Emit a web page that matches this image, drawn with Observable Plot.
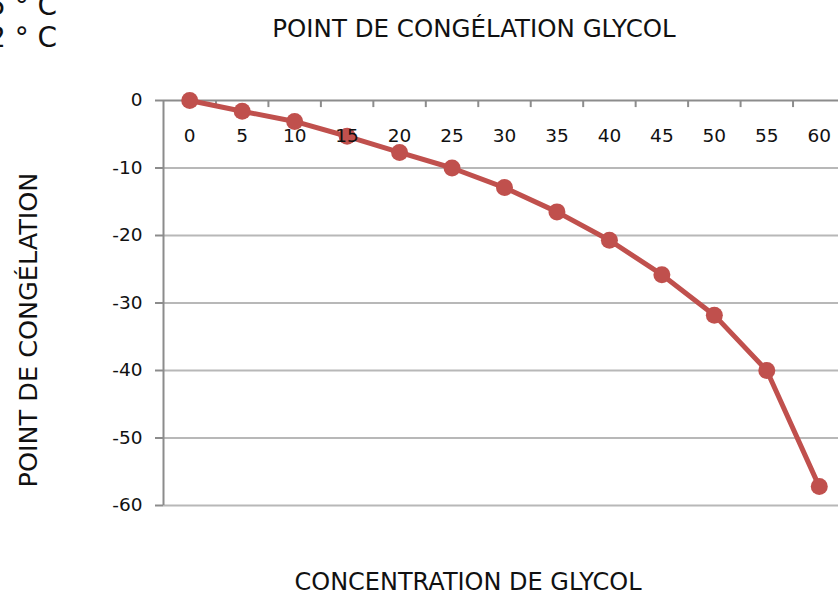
<!DOCTYPE html>
<html>
<head>
<meta charset="utf-8">
<script src="https://cdn.jsdelivr.net/npm/d3@7"></script>
<script src="https://cdn.jsdelivr.net/npm/@observablehq/plot@0.6"></script>
<style>
  html, body { margin: 0; padding: 0; background: #fff; overflow: hidden; }
  #wrap { position: relative; width: 838px; height: 597px; }
  #overlay { position: absolute; left: 0; top: 0; pointer-events: none; }
</style>
</head>
<body>
<div id="wrap"></div>
<script>
// Data
const concentration = [0, 5, 10, 15, 20, 25, 30, 35, 40, 45, 50, 55, 60];
const freezingPoint = [0, -1.6, -3.1, -5.3, -7.7, -10, -12.9, -16.5, -20.7, -25.8, -31.8, -40, -57.2];
const yTicks = [0, -10, -20, -30, -40, -50, -60];
const xBounds = [2.5, 7.5, 12.5, 17.5, 22.5, 27.5, 32.5, 37.5, 42.5, 47.5, 52.5, 57.5];

const titleText = "POINT DE CONGÉLATION GLYCOL";
const xLabelText = "CONCENTRATION DE GLYCOL";
const yLabelText = "POINT DE CONGÉLATION";
const cornerLines = ["5 ° C", "2 ° C"];

const data = concentration.map((c, i) => ({c, v: freezingPoint[i]}));

const red = "#c0504d";
const axisGray = "#8c8c8c";
const gridGray = "#b8b8b8";

const chart = Plot.plot({
  width: 838,
  height: 597,
  marginTop: 100,
  marginBottom: 92,
  marginLeft: 163,
  marginRight: 0,
  style: {fontFamily: "DejaVu Sans", fontSize: "18.5px", color: "#111", background: "#fff"},
  x: {domain: [-2.5, 62.5], range: [163, 845]},
  y: {domain: [-60, 0], range: [505, 100]},
  marks: [
    Plot.ruleY(yTicks.filter(d => d !== 0), {y: d => d, stroke: gridGray, strokeWidth: 2}),
    Plot.axisY({ticks: yTicks, tickSize: 8, tickPadding: 13, tickFormat: d => String(d), stroke: axisGray, strokeWidth: 2, strokeOpacity: 1, label: null, fill: "#111"}),
    Plot.axisX({ticks: [], label: null}),
    Plot.ruleY([0], {stroke: axisGray, strokeWidth: 2}),
    Plot.ruleX([-2.5], {y1: -60, y2: 0, stroke: axisGray, strokeWidth: 2}),
    Plot.ruleX(xBounds, {x: d => d, y1: 0, y2: -1.05, stroke: axisGray, strokeWidth: 2}),
    Plot.line(data, {x: "c", y: "v", stroke: red, strokeWidth: 5}),
    Plot.dot(data, {x: "c", y: "v", r: 8.5, fill: red, stroke: null}),
    Plot.text(concentration, {x: d => d, y: 0, dy: 36, text: d => String(d), fill: "#111"})
  ]
});

const wrap = document.getElementById("wrap");
wrap.appendChild(chart);

// Titles overlay
const ov = d3.select(wrap).append("svg")
  .attr("id", "overlay")
  .attr("width", 838).attr("height", 597)
  .style("font-family", "DejaVu Sans")
  .style("fill", "#111");

ov.append("text").attr("x", 474).attr("y", 37).attr("text-anchor", "middle")
  .style("font-size", "24.5px").text(titleText);
ov.append("text").attr("x", 468).attr("y", 590).attr("text-anchor", "middle")
  .style("font-size", "24px").text(xLabelText);
ov.append("text").attr("transform", "translate(37,330) rotate(-90)").attr("text-anchor", "middle")
  .style("font-size", "25.5px").text(yLabelText);
ov.selectAll("text.corner").data(cornerLines).join("text")
  .attr("class", "corner")
  .attr("x", -12).attr("y", (d, i) => 15 + i * 32)
  .style("font-size", "28px").text(d => d);
</script>
</body>
</html>
